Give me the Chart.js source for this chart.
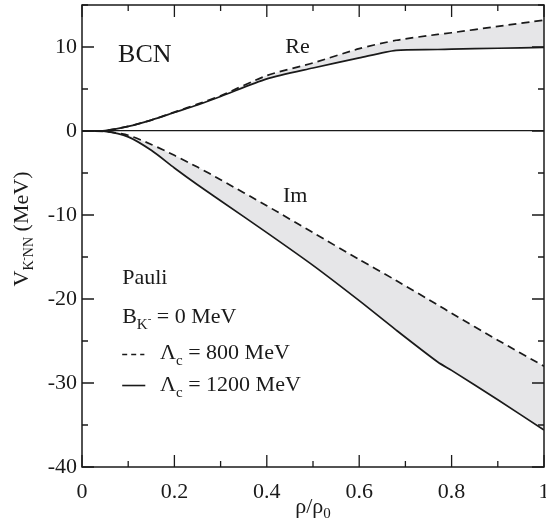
<!DOCTYPE html>
<html>
<head>
<meta charset="utf-8">
<script src="https://cdn.jsdelivr.net/npm/chart.js@4"></script>
<style>
html, body { margin: 0; padding: 0; background: #fff; }
</style>
</head>
<body>
<canvas id="potChart" width="546" height="526"></canvas>
<script>
// density rho/rho0 and the potential curves
const rho      = [0, 0.05, 0.1, 0.15, 0.2, 0.25, 0.3, 0.4, 0.5, 0.6, 0.68, 0.77, 0.8, 0.9, 1.0];
const reSolid  = [0, 0.05, 0.55, 1.3, 2.2, 3.1, 4.1, 6.2, 7.5, 8.7, 9.6, 9.7, 9.75, 9.85, 9.95];
const reDashed = [0, 0.05, 0.55, 1.3, 2.25, 3.2, 4.2, 6.6, 8.1, 9.8, 10.8, 11.5, 11.7, 12.45, 13.2];
const imSolid  = [0, -0.05, -0.7, -2.3, -4.4, -6.4, -8.3, -12.1, -16.0, -20.2, -23.7, -27.5, -28.5, -32.0, -35.6];
const imDashed = [0, -0.05, -0.5, -1.6, -2.9, -4.3, -5.8, -8.9, -12.1, -15.3, -17.8, -20.7, -21.7, -24.9, -28.0];

const SERIF = '"Liberation Serif", "Times New Roman", Times, serif';
const INK = '#1a1a1a';
const BAND = '#e6e6e8';

const pts = (ys) => rho.map((x, i) => ({ x: x, y: ys[i] }));

// text pieces: [text, size, shift]  (shift > 0 = subscript)
function drawRich(ctx, x, y, parts, align) {
    let total = 0;
    parts.forEach(p => { ctx.font = p[1] + 'px ' + SERIF; total += ctx.measureText(p[0]).width; });
    let cx = align === 'center' ? x - total / 2 : x;
    parts.forEach(p => {
        ctx.font = p[1] + 'px ' + SERIF;
        ctx.fillText(p[0], cx, y + (p[2] || 0));
        cx += ctx.measureText(p[0]).width;
    });
}

// labels placed in data coordinates
const notes = [
    { x: 0.078, y: 8.2, parts: [['BCN', 26]] },
    { x: 0.44, y: 9.3, parts: [['Re', 22]] },
    { x: 0.435, y: -8.4, parts: [['Im', 22]] },
    { x: 0.087, y: -18.2, parts: [['Pauli', 22]] },
    { x: 0.087, y: -22.8, parts: [['B', 22], ['K', 15, 6], ['-', 11, -1], [' = 0 MeV', 22]] },
    { x: 0.169, y: -27.2, parts: [['Λ', 22], ['c', 15, 6], [' = 800 MeV', 22]] },
    { x: 0.169, y: -31.0, parts: [['Λ', 22], ['c', 15, 6], [' = 1200 MeV', 22]] },
];
const keys = [
    { x0: 0.087, x1: 0.135, y: -26.6, dash: [5, 4] },
    { x0: 0.087, x1: 0.137, y: -30.3, dash: [] },
];

const framePlugin = {
    id: 'frame',
    afterDraw(chart) {
        const ctx = chart.ctx;
        const a = chart.chartArea;
        const xs = chart.scales.x, ys = chart.scales.y;
        ctx.save();
        ctx.strokeStyle = INK;
        ctx.lineWidth = 1.5;
        ctx.strokeRect(a.left, a.top, a.right - a.left, a.bottom - a.top);

        // inward ticks on all four sides
        ctx.lineWidth = 1.3;
        ctx.beginPath();
        xs.ticks.forEach(t => {
            const px = xs.getPixelForValue(t.value);
            const len = Math.round(t.value * 10) % 2 === 0 ? 12 : 6;
            ctx.moveTo(px, a.bottom); ctx.lineTo(px, a.bottom - len);
            ctx.moveTo(px, a.top); ctx.lineTo(px, a.top + len);
        });
        ys.ticks.forEach(t => {
            const py = ys.getPixelForValue(t.value);
            const len = t.value % 10 === 0 ? 12 : 6;
            ctx.moveTo(a.left, py); ctx.lineTo(a.left + len, py);
            ctx.moveTo(a.right, py); ctx.lineTo(a.right - len, py);
        });
        ctx.stroke();

        // annotations and key
        ctx.fillStyle = INK;
        ctx.textBaseline = 'alphabetic';
        ctx.textAlign = 'left';
        notes.forEach(n => drawRich(ctx, xs.getPixelForValue(n.x), ys.getPixelForValue(n.y), n.parts));
        ctx.lineWidth = 1.6;
        keys.forEach(k => {
            ctx.setLineDash(k.dash);
            ctx.beginPath();
            ctx.moveTo(xs.getPixelForValue(k.x0), ys.getPixelForValue(k.y));
            ctx.lineTo(xs.getPixelForValue(k.x1), ys.getPixelForValue(k.y));
            ctx.stroke();
        });
        ctx.setLineDash([]);

        // axis titles
        drawRich(ctx, (a.left + a.right) / 2, 513, [['ρ/ρ', 22], ['0', 15, 5]], 'center');
        ctx.translate(28, 229);
        ctx.rotate(-Math.PI / 2);
        drawRich(ctx, 0, 0, [['V', 22], ['K', 14, 5], ['-', 10, -1], ['NN', 14, 5], [' (MeV)', 22]], 'center');
        ctx.restore();
    }
};

const lineStyle = (dash) => ({
    borderColor: INK,
    borderWidth: 1.7,
    borderDash: dash,
    pointRadius: 0,
    tension: 0.25,
});

function drawChart() {
    new Chart(document.getElementById('potChart'), {
        type: 'line',
        data: {
            datasets: [
                Object.assign({ label: 'Re 1200', data: pts(reSolid), fill: false }, lineStyle([])),
                Object.assign({ label: 'Re 800', data: pts(reDashed), fill: 0, backgroundColor: BAND }, lineStyle([8, 5])),
                Object.assign({ label: 'Im 1200', data: pts(imSolid), fill: false }, lineStyle([])),
                Object.assign({ label: 'Im 800', data: pts(imDashed), fill: 2, backgroundColor: BAND }, lineStyle([8, 5])),
            ]
        },
        options: {
            responsive: false,
            animation: false,
            layout: { padding: { top: 5, right: 2, left: 0, bottom: 0 } },
            plugins: {
                legend: { display: false },
                tooltip: { enabled: false },
                filler: { drawTime: 'beforeDatasetsDraw' },
            },
            scales: {
                x: {
                    type: 'linear',
                    min: 0,
                    max: 1,
                    afterFit: (s) => { s.height = 59; s.paddingLeft = 0; s.paddingRight = 0; },
                    border: { display: false },
                    grid: { display: false },
                    ticks: {
                        stepSize: 0.1,
                        padding: 4,
                        color: INK,
                        font: { family: SERIF, size: 22 },
                        maxRotation: 0,
                        autoSkip: false,
                        callback: (v) => Math.round(v * 10) % 2 === 0 ? String(Math.round(v * 10) / 10) : '',
                    }
                },
                y: {
                    min: -40,
                    max: 15,
                    afterFit: (s) => { s.width = 82; s.paddingTop = 0; s.paddingBottom = 0; },
                    border: { display: false },
                    grid: {
                        drawTicks: false,
                        color: (c) => c.tick && c.tick.value === 0 ? INK : 'rgba(0,0,0,0)',
                        lineWidth: 1.2,
                    },
                    ticks: {
                        stepSize: 5,
                        padding: 5,
                        color: INK,
                        font: { family: SERIF, size: 22 },
                        autoSkip: false,
                        callback: (v) => (v % 10 === 0 && v !== 15) ? String(v) : '',
                    }
                }
            }
        },
        plugins: [framePlugin]
    });
}

if (document.fonts && document.fonts.load) {
    Promise.all([
        document.fonts.load('22px "Liberation Serif"'),
        document.fonts.load('22px "Times New Roman"')
    ]).then(drawChart, drawChart);
} else {
    drawChart();
}
</script>
</body>
</html>
